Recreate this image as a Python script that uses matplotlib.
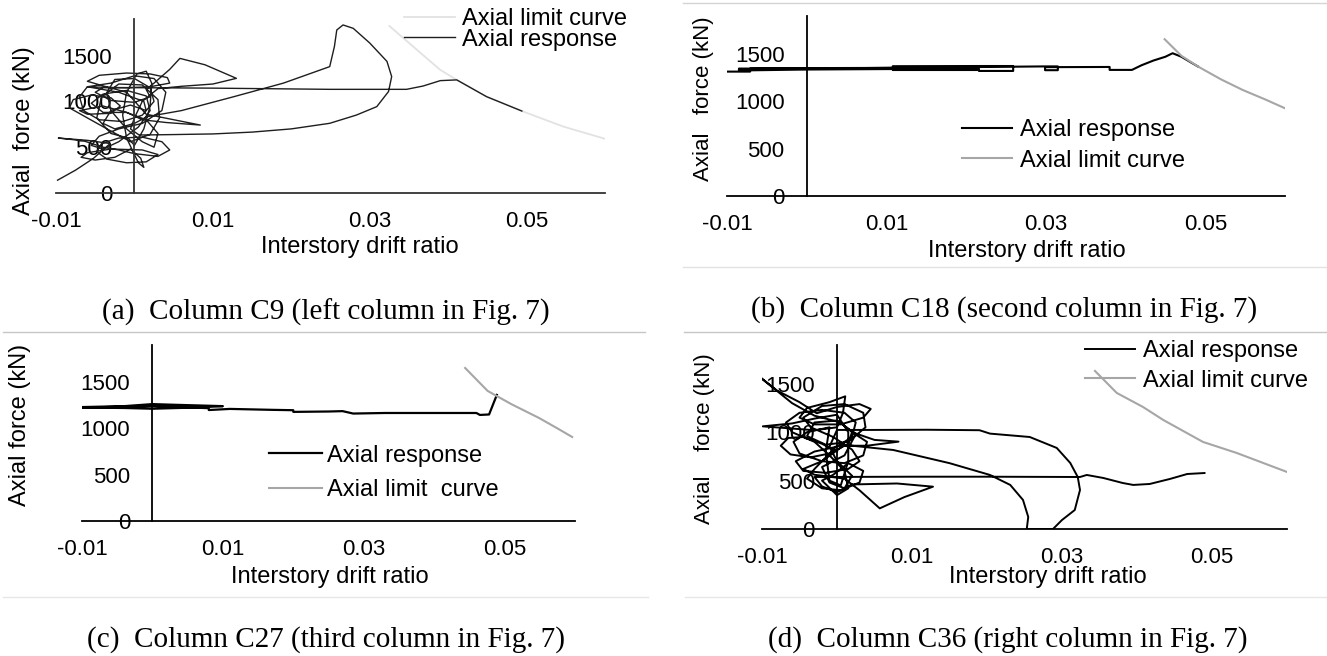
import numpy as np
import matplotlib
matplotlib.use('Agg')
import matplotlib.pyplot as plt
from matplotlib.lines import Line2D

plt.rcParams['font.family'] = ['Liberation Sans', 'DejaVu Sans']

# tick values shared by all four panels
x_ticks = [-0.01, 0.01, 0.03, 0.05]
x_tick_labels = ['-0.01', '0.01', '0.03', '0.05']
y_ticks = [0, 500, 1000, 1500]

# (a) column C9: drift ratio, axial force (kN)
resp_a = np.array([
    (-0.0098, 140), (-0.0075, 250), (-0.0052, 380), (-0.0031, 540), (-0.0060, 575),
    (-0.0097, 600), (-0.0065, 570), (-0.0040, 500), (-0.0020, 470), (0.0000, 430),
    (0.0030, 400), (0.0045, 470), (0.0035, 560), (0.0010, 610), (-0.0020, 600),
    (-0.0042, 540), (-0.0048, 450), (-0.0035, 370), (-0.0010, 330), (0.0015, 340),
    (0.0030, 420), (0.0010, 470), (-0.0030, 480), (-0.0060, 440), (-0.0068, 390),
    (-0.0050, 360), (-0.0025, 390), (-0.0005, 480), (0.0008, 380), (0.0012, 280),
    (0.0005, 330), (-0.0010, 600), (-0.0015, 850), (-0.0010, 1100), (0.0003, 1300),
    (0.0015, 1330), (0.0022, 1200), (0.0020, 950), (0.0012, 700), (0.0000, 520),
    (-0.0008, 600), (-0.0030, 650), (-0.0048, 820), (-0.0042, 1050), (-0.0020, 1190),
    (0.0010, 1180), (0.0030, 1020), (0.0032, 820), (0.0020, 640), (-0.0005, 560),
    (-0.0035, 700), (-0.0060, 820), (-0.0083, 930), (-0.0078, 1020), (-0.0055, 1070),
    (-0.0030, 1040), (-0.0018, 950), (-0.0030, 870), (-0.0060, 860), (-0.0070, 900),
    (-0.0040, 950), (-0.0010, 880), (0.0010, 800), (0.0040, 770), (0.0084, 742),
    (0.0050, 800), (0.0015, 860), (-0.0010, 1100), (-0.0040, 1170), (-0.0060, 1220),
    (-0.0045, 1285), (-0.0010, 1310), (0.0020, 1300), (0.0042, 1260), (0.0045, 1200),
    (0.0020, 1160), (-0.0010, 1150), (-0.0040, 1150), (-0.0050, 1100), (-0.0030, 1010),
    (0.0000, 990), (0.0020, 1050), (0.0015, 1130), (0.0025, 1200), (0.0045, 1350),
    (0.0058, 1470), (0.0090, 1400), (0.0130, 1252), (0.0100, 1190), (0.0060, 1165),
    (0.0030, 1140), (0.0010, 1000), (0.0000, 820), (-0.0005, 700), (0.0006, 633),
    (0.0050, 638), (0.0100, 645), (0.0150, 665), (0.0200, 700), (0.0249, 761),
    (0.0283, 851), (0.0309, 943), (0.0324, 1108), (0.0328, 1271), (0.0322, 1437),
    (0.0300, 1638), (0.0279, 1798), (0.0266, 1835), (0.0258, 1780), (0.0255, 1600),
    (0.0249, 1380), (0.0190, 1200), (0.0126, 1050), (0.0060, 900), (0.0016, 833),
    (0.0000, 760), (-0.0025, 700), (-0.0040, 760), (-0.0030, 900), (-0.0005, 960),
    (0.0015, 900), (0.0012, 1000), (-0.0020, 1100), (-0.0060, 1160), (-0.0070, 1050),
    (-0.0065, 900), (-0.0045, 800), (-0.0015, 780), (0.0010, 850), (0.0025, 1000),
    (0.0020, 1150), (0.0000, 1250), (-0.0025, 1240), (-0.0035, 1100), (-0.0030, 900),
    (-0.0010, 700), (0.0010, 560), (0.0025, 500), (0.0030, 650), (0.0015, 800),
    (-0.0010, 880), (-0.0040, 880), (-0.0055, 980), (-0.0040, 1080), (-0.0010, 1120),
    (0.0015, 1060), (0.0020, 900), (0.0005, 720), (-0.0020, 560), (-0.0040, 480),
    (-0.0055, 520), (-0.0045, 620), (-0.0020, 700), (0.0010, 760), (0.0035, 900),
    (0.0040, 1100), (0.0025, 1250), (0.0000, 1280), (-0.0030, 1200), (-0.0060, 1160),
    (-0.0030, 1152), (0.0000, 1150), (0.0100, 1145), (0.0249, 1132), (0.0347, 1132),
    (0.0368, 1168), (0.0390, 1227), (0.0411, 1235), (0.0449, 1052), (0.0494, 895),
])
limit_a = np.array([
    (0.0325, 1824), (0.0360, 1565), (0.0390, 1344), (0.0411, 1235), (0.0449, 1052),
    (0.0494, 895), (0.0547, 725), (0.0602, 587),
])

# (b) column C18
resp_b = np.array([
    (-0.0100, 1313), (-0.0071, 1313), (-0.0071, 1345), (0.0000, 1350), (0.0100, 1352),
    (0.0214, 1355), (0.0214, 1330), (0.0108, 1330), (0.0108, 1370), (0.0216, 1372),
    (0.0259, 1372), (0.0259, 1320), (0.0216, 1320), (0.0216, 1345), (0.0000, 1335),
    (-0.0085, 1325), (-0.0085, 1345), (0.0000, 1345), (0.0299, 1368), (0.0315, 1368),
    (0.0315, 1328), (0.0299, 1328), (0.0299, 1360), (0.0380, 1362), (0.0380, 1331),
    (0.0408, 1331), (0.0420, 1380), (0.0435, 1430), (0.0450, 1470), (0.0459, 1507),
    (0.0470, 1470), (0.0480, 1420), (0.0491, 1366),
])
limit_b = np.array([
    (0.0449, 1655), (0.0470, 1480), (0.0491, 1366), (0.0520, 1230), (0.0547, 1119),
    (0.0575, 1020), (0.0600, 926),
])

# (c) column C27
resp_c = np.array([
    (-0.0100, 1230), (-0.0040, 1240), (0.0000, 1262), (0.0030, 1255), (0.0100, 1240),
    (0.0060, 1225), (0.0000, 1212), (-0.0040, 1220), (-0.0100, 1225), (-0.0030, 1235),
    (0.0000, 1240), (0.0080, 1218), (0.0080, 1198), (0.0110, 1210), (0.0170, 1200),
    (0.0200, 1196), (0.0200, 1178), (0.0250, 1182), (0.0270, 1186), (0.0285, 1160),
    (0.0330, 1166), (0.0460, 1166), (0.0465, 1145), (0.0478, 1150), (0.0489, 1361),
])
limit_c = np.array([
    (0.0444, 1652), (0.0476, 1404), (0.0510, 1260), (0.0549, 1112), (0.0575, 1000),
    (0.0596, 907),
])

# (d) column C36
resp_d = np.array([
    (0.0000, 800), (-0.0020, 880), (-0.0045, 950), (-0.0065, 940), (-0.0075, 860),
    (-0.0062, 770), (-0.0035, 740), (-0.0010, 780), (0.0015, 880), (0.0020, 1000),
    (0.0005, 1100), (-0.0030, 1170), (-0.0060, 1300), (-0.0103, 1570), (-0.0080, 1430),
    (-0.0050, 1310), (-0.0027, 1195), (0.0000, 1260), (0.0030, 1290), (0.0045, 1240),
    (0.0035, 1150), (0.0005, 1080), (-0.0030, 1080), (-0.0050, 1150), (-0.0040, 1250),
    (-0.0010, 1310), (0.0011, 1370), (0.0008, 1200), (0.0000, 1050), (-0.0030, 1020),
    (-0.0099, 1060), (-0.0060, 1090), (-0.0030, 1140), (0.0000, 1180), (0.0015, 1000),
    (0.0015, 700), (0.0005, 450), (-0.0010, 500), (-0.0015, 800), (-0.0010, 1050),
    (-0.0040, 1000), (-0.0058, 900), (-0.0050, 780), (-0.0020, 700), (0.0010, 680),
    (0.0035, 760), (0.0040, 900), (0.0020, 1000), (0.0050, 920), (0.0082, 902),
    (0.0040, 860), (0.0000, 860), (-0.0030, 620), (-0.0040, 520), (-0.0020, 420),
    (0.0005, 400), (0.0030, 480), (0.0035, 600), (0.0015, 680), (-0.0005, 560),
    (-0.0020, 500), (0.0000, 350), (0.0015, 420), (0.0010, 600), (-0.0010, 760),
    (-0.0030, 900), (-0.0060, 1000), (-0.0068, 1100), (-0.0050, 1200), (-0.0020, 1230),
    (0.0010, 1200), (0.0025, 1100), (0.0020, 950), (0.0000, 850), (-0.0030, 800),
    (-0.0055, 700), (-0.0045, 600), (-0.0015, 580), (0.0015, 620), (0.0030, 700),
    (0.0020, 820), (-0.0005, 950), (-0.0035, 1050), (-0.0045, 1150), (-0.0020, 1270),
    (0.0010, 1290), (0.0035, 1200), (0.0038, 1050), (0.0015, 900), (-0.0015, 870),
    (-0.0040, 960), (-0.0030, 1100), (0.0000, 1120), (0.0025, 980), (0.0010, 760),
    (-0.0020, 640), (-0.0010, 480), (0.0010, 420), (0.0020, 550), (0.0000, 700),
    (-0.0010, 850), (0.0000, 1023), (0.0050, 1023), (0.0120, 1025), (0.0190, 1020),
    (0.0204, 985), (0.0257, 950), (0.0293, 837), (0.0311, 682), (0.0321, 537),
    (0.0324, 403), (0.0317, 196), (0.0300, 93), (0.0288, 0), (0.0253, 0),
    (0.0255, 124), (0.0248, 300), (0.0231, 455), (0.0204, 558), (0.0150, 680),
    (0.0075, 816), (0.0010, 868), (-0.0020, 700), (-0.0045, 620), (-0.0030, 560),
    (0.0010, 520), (0.0030, 400), (0.0057, 213), (0.0090, 330), (0.0128, 437),
    (0.0080, 470), (0.0020, 460), (0.0000, 380), (-0.0020, 440), (-0.0030, 537),
    (0.0100, 540), (0.0200, 540), (0.0324, 537), (0.0333, 558), (0.0355, 527),
    (0.0381, 475), (0.0395, 455), (0.0417, 465), (0.0444, 517), (0.0467, 568),
    (0.0490, 578),
])
limit_d = np.array([
    (0.0344, 1632), (0.0373, 1405), (0.0408, 1260), (0.0435, 1126), (0.0488, 899),
    (0.0533, 785), (0.0600, 589),
])

captions = [
    '(a)  Column C9 (left column in Fig. 7)',
    '(b)  Column C18 (second column in Fig. 7)',
    '(c)  Column C27 (third column in Fig. 7)',
    '(d)  Column C36 (right column in Fig. 7)',
]

W, H = 1327, 656
fig = plt.figure(figsize=(W / 100, H / 100), dpi=100)


def add_axes_px(left, top, right, bottom):
    return fig.add_axes([left / W, 1 - bottom / H, (right - left) / W, (bottom - top) / H])


def style_axes(ax, ylabel, ylab_xy, xlab_xy, axis_color='black', ylab_size=17):
    ax.set_xlim(-0.01, 0.06)
    ax.set_ylim(0, 1900)
    ax.set_xticks(x_ticks)
    ax.set_xticklabels(x_tick_labels)
    ax.set_yticks(y_ticks)
    ax.spines['top'].set_visible(False)
    ax.spines['right'].set_visible(False)
    ax.spines['left'].set_position(('data', 0))
    for s in ('left', 'bottom'):
        ax.spines[s].set_color(axis_color)
        ax.spines[s].set_linewidth(1.3)
    ax.tick_params(axis='both', length=0, labelsize=16)
    ax.tick_params(axis='x', pad=13)
    ax.tick_params(axis='y', pad=16)
    ax.set_xlabel('Interstory drift ratio', fontsize=17)
    ax.xaxis.set_label_coords(*xlab_xy)
    ax.set_ylabel(ylabel, fontsize=ylab_size)
    ax.yaxis.set_label_coords(*ylab_xy)
    ax.patch.set_alpha(0)


def add_legend(ax, handles, labels, anchor_px, spacing, handle_px=51, pad_px=7):
    fs = 17 * 100 / 72
    ax.legend(handles, labels, loc='center left', frameon=False, fontsize=17,
              bbox_to_anchor=(anchor_px[0] / W, 1 - anchor_px[1] / H),
              bbox_transform=fig.transFigure, borderpad=0, borderaxespad=0,
              handlelength=handle_px / fs, handletextpad=pad_px / fs,
              labelspacing=spacing)


# (a)
ax = add_axes_px(56, 19, 605, 193)
la, = ax.plot(limit_a[:, 0], limit_a[:, 1], color='#e2e2e2', lw=1.3)
ra, = ax.plot(resp_a[:, 0], resp_a[:, 1], color='#1e1e1e', lw=1.0)
style_axes(ax, 'Axial  force (kN)', (-0.038, 0.36), (0.554, -0.247), axis_color='#333333')
add_legend(ax, [la, ra], ['Axial limit curve', 'Axial response'], (404, 29.5), -0.08)

# (b)
ax = add_axes_px(727, 16, 1285, 196)
rb, = ax.plot(resp_b[:, 0], resp_b[:, 1], color='black', lw=1.5)
lb, = ax.plot(limit_b[:, 0], limit_b[:, 1], color='#a6a6a6', lw=1.5)
style_axes(ax, 'Axial   force (kN)', (-0.023, 0.54), (0.538, -0.244), ylab_size=16)
add_legend(ax, [rb, lb], ['Axial response', 'Axial limit curve'], (962, 145.5), 0.34, 50, 8)

# (c)
ax = add_axes_px(82, 345, 575, 521)
rc, = ax.plot(resp_c[:, 0], resp_c[:, 1], color='black', lw=1.6)
lc, = ax.plot(limit_c[:, 0], limit_c[:, 1], color='#a6a6a6', lw=1.5)
style_axes(ax, 'Axial force (kN)', (-0.103, 0.545), (0.503, -0.256))
add_legend(ax, [rc, lc], ['Axial response', 'Axial limit  curve'], (269, 473), 0.55, 53, 5)

# (d)
ax = add_axes_px(762, 345, 1287, 529)
rd, = ax.plot(resp_d[:, 0], resp_d[:, 1], color='black', lw=1.4)
ld, = ax.plot(limit_d[:, 0], limit_d[:, 1], color='#a6a6a6', lw=1.5)
style_axes(ax, 'Axial    force (kN)', (-0.09, 0.49), (0.545, -0.20), ylab_size=16)
add_legend(ax, [rd, ld], ['Axial response', 'Axial limit curve'], (1085, 366), 0.3, 50, 8)

# thin grey frame lines between the sub-figures
frame_lines = [
    ((683, 1327), 3, '#d4d4d4'), ((683, 1327), 267, '#e2e2e2'),
    ((3, 645), 332, '#c6c6c6'), ((684, 1327), 332, '#c6c6c6'),
    ((3, 648), 597, '#e6e6e6'), ((685, 1327), 597, '#e6e6e6'),
]
for (x0, x1), y, c in frame_lines:
    fig.add_artist(Line2D([x0 / W, x1 / W], [1 - y / H, 1 - y / H], color=c, lw=1.0,
                          transform=fig.transFigure))

caption_pos = [(326, 312), (1004, 310), (326, 640), (1008, 640)]
for text, (cx, cy) in zip(captions, caption_pos):
    fig.text(cx / W, 1 - cy / H, text, ha='center', va='center', fontsize=21,
             family=['Liberation Serif', 'DejaVu Serif'])

fig.savefig('out.png', dpi=100)
